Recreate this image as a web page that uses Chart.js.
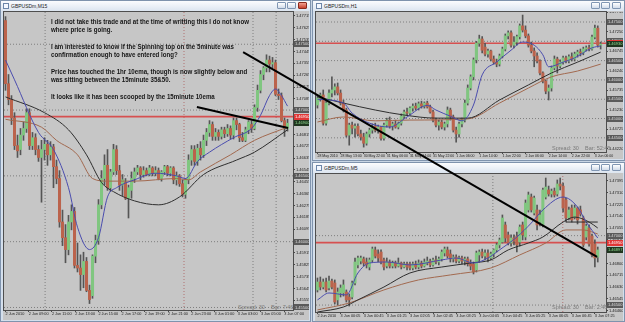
<!DOCTYPE html>
<html>
<head>
<meta charset="utf-8">
<script src="https://cdn.jsdelivr.net/npm/chart.js@4.4.1/dist/chart.umd.min.js"></script>
<style>
html,body{margin:0;padding:0;}
body{width:625px;height:322px;overflow:hidden;position:relative;background:#c9d6e5;font-family:"Liberation Sans",Arial,sans-serif;}
.win{position:absolute;background:#d4dfec;border:1px solid #7f93ad;box-sizing:border-box;}
.tbar{position:absolute;height:10px;background:linear-gradient(#fbfcfe,#dce5f0);}
.ico{position:absolute;width:6px;height:6px;border:1px solid #6d86a8;background:#f4f8ff;box-sizing:border-box;}
.ttl{position:absolute;font-size:5px;line-height:6px;color:#222;white-space:nowrap;}
.b{position:absolute;width:9px;height:7px;border:1px solid #8096b3;border-radius:1px;box-sizing:border-box;background:linear-gradient(#ffffff,#d2dcea);}
.b.x{background:linear-gradient(#f2a190,#c8402c);border-color:#8b2a1c;}
.bg{position:absolute;background:#c6c6c6;}
.area{position:absolute;border:1px solid #4e4e4e;box-sizing:border-box;}
canvas{position:absolute;}
#note{position:absolute;left:51px;top:18px;font-weight:bold;font-size:7px;line-height:8.3px;color:#161616;white-space:pre;transform-origin:0 0;z-index:5;display:inline-block;}
.spread{position:absolute;font-size:5.5px;line-height:6px;color:#7a7a7a;white-space:pre;z-index:3;}
</style>
</head>
<body>
<!-- left window (M15) -->
<div class="win" style="left:0;top:0;width:311px;height:322px;"></div>
<div class="tbar" style="left:1px;top:1px;width:309px;"></div>
<div class="ico" style="left:3px;top:3px;"></div>
<div class="ttl" style="left:11px;top:3px;">GBPUSDm,M15</div>
<div class="b" style="left:277px;top:2px;"></div>
<div class="b" style="left:287px;top:2px;"></div>
<div class="b x" style="left:298px;top:2px;"></div>
<div class="bg" style="left:3px;top:11px;width:306px;height:309px;"></div>
<div class="area" style="left:3px;top:11px;width:291px;height:300px;"></div>

<!-- top right window (H1) -->
<div class="win" style="left:312px;top:0;width:313px;height:161px;"></div>
<div class="tbar" style="left:313px;top:1px;width:311px;"></div>
<div class="ico" style="left:316px;top:3px;"></div>
<div class="ttl" style="left:324px;top:3px;">GBPUSDm,H1</div>
<div class="b" style="left:591px;top:2px;"></div>
<div class="b" style="left:601px;top:2px;"></div>
<div class="b" style="left:612px;top:2px;"></div>
<div class="bg" style="left:315px;top:11px;width:308px;height:148px;"></div>
<div class="area" style="left:315px;top:11px;width:292px;height:142px;"></div>

<!-- bottom right window (M5) -->
<div class="win" style="left:312px;top:162px;width:313px;height:160px;"></div>
<div class="tbar" style="left:313px;top:163px;width:311px;"></div>
<div class="ico" style="left:316px;top:165px;"></div>
<div class="ttl" style="left:324px;top:165px;">GBPUSDm,M5</div>
<div class="b" style="left:591px;top:164px;"></div>
<div class="b" style="left:601px;top:164px;"></div>
<div class="b" style="left:612px;top:164px;"></div>
<div class="bg" style="left:315px;top:173px;width:308px;height:148px;"></div>
<div class="area" style="left:315px;top:173px;width:292px;height:140px;"></div>

<canvas id="cH1" width="307" height="147" style="left:316px;top:12px;z-index:2;"></canvas>
<canvas id="cM5" width="307" height="146" style="left:316px;top:174px;z-index:2;"></canvas>

<div class="spread" style="left:238px;top:304px;">Spread: 30    Bar: 7:46</div>
<div class="spread" style="left:552px;top:145px;">Spread: 30    Bar: 52:45</div>
<div class="spread" style="left:552px;top:304px;">Spread: 30    Bar: 2:46</div>

<canvas id="cM15" width="625" height="322" style="left:0;top:0;z-index:4;"></canvas>

<div id="note">I did not take this trade and at the time of writting this I do not know
where price is going.

I am interested to know if the Spinning top on the 5minute was
confirmation enough to have entered long?

Price has touched the 1hr 10ema, though is now slightly below and
was sitting between the 15minute 35&amp;50.

It looks like it has been scooped by the 15minute 10ema</div>

<script>
// ---------------- shared levels ----------------
const hLevels = [1.4750, 1.4700, 1.4650, 1.4600, 1.4550, 1.4500, 1.4450];
const redLevel = 1.4695;

// ---------------- M15 (left) ----------------
const m15TimeLabels = ["2 Jun 2010","2 Jun 09:00","2 Jun 11:00","2 Jun 13:00","2 Jun 15:00","2 Jun 17:00","2 Jun 19:00","2 Jun 21:00","2 Jun 23:00","3 Jun 01:00","3 Jun 03:00","3 Jun 05:00","3 Jun 07:00"];
const m15TickPos = [0, 7.74, 15.48, 23.22, 30.96, 38.7, 46.44, 54.18, 61.92, 69.66, 77.4, 85.14, 92.88];
const m15PriceTicks = [1.47715,1.47625,1.47535,1.47445,1.47355,1.47265,1.47175,1.47085,1.46995,1.46905,1.46815,1.46725,1.46635,1.46545,1.46455,1.46365,1.46275,1.46185,1.46095,1.46005,1.45915,1.45825,1.45735,1.45645,1.45555];
const m15Open = [1.4768,1.4720,1.4708,1.4694,1.4673,1.4670,1.4681,1.4686,1.4698,1.4673,
1.4679,1.4670,1.4664,1.4670,1.4674,1.4666,1.4672,1.4657,1.4648,1.4615,
1.4603,1.4594,1.4615,1.4623,1.4582,1.4580,1.4575,1.4585,1.4563,1.4559,
1.4589,1.4601,1.4628,1.4648,1.4658,1.4641,1.4653,1.4670,1.4654,1.4643,
1.4645,1.4633,1.4639,1.4648,1.4653,1.4656,1.4651,1.4654,1.4651,1.4656,
1.4652,1.4654,1.4648,1.4653,1.4657,1.4652,1.4656,1.4647,1.4650,1.4644,
1.4636,1.4647,1.4662,1.4670,1.4661,1.4671,1.4666,1.4677,1.4683,1.4689,
1.4680,1.4683,1.4680,1.4685,1.4682,1.4686,1.4681,1.4692,1.4689,1.4679,
1.4677,1.4685,1.4689,1.4686,1.4702,1.4715,1.4727,1.4732,1.4738,1.4735,
1.4736,1.4712,1.4711,1.4692,1.4686];
const m15High = [1.4771,1.4727,1.4711,1.4698,1.4681,1.4686,1.4691,1.4701,1.4701,1.4683,
1.4682,1.4673,1.4677,1.4679,1.4677,1.4676,1.4674,1.4662,1.4654,1.4624,
1.4613,1.4620,1.4628,1.4626,1.4599,1.4590,1.4592,1.4588,1.4567,1.4590,
1.4605,1.4632,1.4654,1.4666,1.4670,1.4655,1.4674,1.4673,1.4658,1.4651,
1.4648,1.4643,1.4653,1.4656,1.4658,1.4657,1.4657,1.4656,1.4658,1.4657,
1.4657,1.4656,1.4654,1.4658,1.4658,1.4657,1.4657,1.4653,1.4651,1.4647,
1.4648,1.4666,1.4673,1.4673,1.4674,1.4676,1.4681,1.4686,1.4692,1.4691,
1.4686,1.4685,1.4687,1.4687,1.4689,1.4688,1.4694,1.4694,1.4690,1.4683,
1.4687,1.4692,1.4692,1.4704,1.4719,1.4730,1.4733,1.4742,1.4741,1.4740,
1.4738,1.4716,1.4713,1.4694,1.4693];
const m15Low = [1.4715,1.4704,1.4689,1.4670,1.4664,1.4666,1.4677,1.4683,1.4670,1.4670,
1.4666,1.4661,1.4630,1.4662,1.4658,1.4662,1.4641,1.4644,1.4611,1.4597,
1.4584,1.4590,1.4609,1.4580,1.4577,1.4563,1.4565,1.4562,1.4553,1.4557,
1.4584,1.4598,1.4625,1.4643,1.4639,1.4638,1.4651,1.4651,1.4639,1.4635,
1.4632,1.4618,1.4633,1.4645,1.4651,1.4647,1.4649,1.4650,1.4650,1.4650,
1.4650,1.4647,1.4646,1.4651,1.4650,1.4650,1.4644,1.4643,1.4642,1.4634,
1.4633,1.4644,1.4658,1.4658,1.4658,1.4662,1.4664,1.4673,1.4680,1.4677,
1.4677,1.4677,1.4678,1.4679,1.4680,1.4678,1.4678,1.4685,1.4676,1.4676,
1.4676,1.4682,1.4683,1.4685,1.4699,1.4713,1.4723,1.4729,1.4729,1.4732,
1.4711,1.4708,1.4691,1.4680,1.4684];
const m15Close = [1.4720,1.4708,1.4694,1.4673,1.4669,1.4681,1.4686,1.4698,1.4673,1.4679,
1.4670,1.4664,1.4670,1.4674,1.4666,1.4672,1.4657,1.4648,1.4615,1.4603,
1.4594,1.4615,1.4623,1.4582,1.4580,1.4575,1.4585,1.4563,1.4556,1.4589,
1.4601,1.4628,1.4648,1.4658,1.4641,1.4653,1.4670,1.4654,1.4643,1.4647,
1.4633,1.4641,1.4648,1.4653,1.4656,1.4651,1.4654,1.4651,1.4656,1.4652,
1.4654,1.4648,1.4653,1.4657,1.4652,1.4656,1.4647,1.4650,1.4644,1.4636,
1.4647,1.4662,1.4670,1.4661,1.4671,1.4666,1.4677,1.4683,1.4689,1.4680,
1.4683,1.4680,1.4685,1.4682,1.4686,1.4681,1.4692,1.4689,1.4679,1.4677,
1.4685,1.4691,1.4686,1.4702,1.4715,1.4727,1.4732,1.4738,1.4735,1.4736,
1.4712,1.4711,1.4692,1.4686,1.4690];
const m15Ema10 = [[0,1.4738],[3,1.4723],[11,1.4683],[16,1.4670],[21,1.4641],[24,1.4611],[28,1.4594],[31,1.4603],[34,1.4634],[37,1.4641],[43,1.4647],[50,1.4652],[57,1.4650],[60,1.4648],[64,1.4661],[68,1.4668],[76,1.4679],[82,1.4686],[85,1.4696],[88,1.4711],[90,1.4716],[92,1.4711],[94,1.4703]];
const m15Ema35 = [[0,1.4710],[13,1.4698],[21,1.4685],[27,1.4666],[32,1.4645],[36,1.4638],[43,1.4631],[51,1.4628],[58,1.4634],[66,1.4651],[77,1.4662],[83,1.4668],[94,1.4685]];
const m15Ema50 = [[0,1.4693],[12,1.4687],[17,1.4677],[24,1.4666],[29,1.4648],[34,1.4646],[43,1.4646],[57,1.4648],[61,1.4647],[65,1.4653],[75,1.4666],[83,1.4677],[94,1.4687]];
const m15VLines = [13.2, 82.5, 90.2];
const m15RedVLines = [59.5];
// hand-drawn trend lines, in M15 chart coordinates (bar index, price)
const trendLineA = [[79.2, 1.47441], [197.2, 1.45884]];
const trendLineB = [[63.8, 1.47023], [94.2, 1.46864]];

// ---------------- H1 (top right) ----------------
const h1TimeLabels = ["28 May 2010","28 May 13:00","30 May 22:00","31 May 06:00","31 May 14:00","31 May 22:00","1 Jun 06:00","1 Jun 14:00","1 Jun 22:00","2 Jun 06:00","2 Jun 14:00","2 Jun 22:00","3 Jun 06:00"];
const h1TickPos = [0,8,16,24,32,40,48,56,64,72,80,88,96];
const h1PriceTicks = [1.47755,1.47250,1.46745,1.46240,1.45735,1.45230,1.44725,1.44220];
const h1Open = [1.4535,1.4553,1.4561,1.4488,1.4540,1.4566,1.4574,1.4582,1.4566,1.4540,
1.4522,1.4457,1.4483,1.4475,1.4480,1.4460,1.4452,1.4436,1.4460,1.4470,
1.4480,1.4470,1.4478,1.4449,1.4483,1.4496,1.4480,1.4486,1.4478,1.4488,
1.4506,1.4517,1.4514,1.4527,1.4532,1.4527,1.4538,1.4532,1.4540,1.4530,
1.4517,1.4496,1.4483,1.4491,1.4478,1.4486,1.4522,1.4504,1.4470,1.4460,
1.4486,1.4496,1.4540,1.4579,1.4608,1.4652,1.4695,1.4706,1.4685,1.4667,
1.4675,1.4654,1.4646,1.4641,1.4662,1.4680,1.4714,1.4722,1.4690,1.4698,
1.4712,1.4740,1.4729,1.4714,1.4690,1.4675,1.4662,1.4649,1.4618,1.4597,
1.4571,1.4579,1.4631,1.4654,1.4636,1.4646,1.4657,1.4649,1.4660,1.4654,
1.4667,1.4672,1.4670,1.4680,1.4683,1.4680,1.4711,1.4734,1.4690];
const h1High = [1.4561,1.4566,1.4574,1.4548,1.4574,1.4608,1.4590,1.4592,1.4574,1.4548,
1.4527,1.4488,1.4491,1.4486,1.4486,1.4470,1.4462,1.4465,1.4475,1.4486,
1.4488,1.4483,1.4480,1.4488,1.4501,1.4504,1.4491,1.4496,1.4491,1.4512,
1.4522,1.4527,1.4530,1.4538,1.4540,1.4543,1.4545,1.4543,1.4545,1.4535,
1.4522,1.4501,1.4496,1.4496,1.4491,1.4530,1.4527,1.4509,1.4478,1.4491,
1.4501,1.4548,1.4587,1.4613,1.4657,1.4700,1.4716,1.4712,1.4695,1.4680,
1.4677,1.4662,1.4654,1.4667,1.4685,1.4719,1.4727,1.4727,1.4712,1.4716,
1.4745,1.4768,1.4740,1.4719,1.4698,1.4683,1.4670,1.4652,1.4621,1.4600,
1.4587,1.4636,1.4662,1.4659,1.4652,1.4662,1.4662,1.4665,1.4670,1.4672,
1.4677,1.4680,1.4685,1.4688,1.4690,1.4716,1.4742,1.4740,1.4698];
const h1Low = [1.4527,1.4545,1.4483,1.4483,1.4535,1.4556,1.4561,1.4561,1.4535,1.4517,
1.4452,1.4431,1.4460,1.4452,1.4455,1.4444,1.4426,1.4431,1.4452,1.4462,
1.4465,1.4462,1.4444,1.4444,1.4478,1.4475,1.4470,1.4475,1.4473,1.4483,
1.4501,1.4509,1.4509,1.4519,1.4522,1.4522,1.4527,1.4527,1.4527,1.4514,
1.4491,1.4478,1.4470,1.4473,1.4470,1.4478,1.4496,1.4465,1.4439,1.4452,
1.4478,1.4491,1.4535,1.4574,1.4600,1.4644,1.4687,1.4670,1.4662,1.4659,
1.4649,1.4641,1.4634,1.4636,1.4657,1.4675,1.4706,1.4685,1.4683,1.4690,
1.4706,1.4724,1.4709,1.4685,1.4670,1.4634,1.4644,1.4613,1.4592,1.4564,
1.4548,1.4571,1.4626,1.4618,1.4631,1.4641,1.4644,1.4644,1.4649,1.4649,
1.4659,1.4662,1.4665,1.4675,1.4675,1.4677,1.4706,1.4685,1.4680];
const h1Close = [1.4553,1.4561,1.4488,1.4540,1.4566,1.4574,1.4582,1.4566,1.4540,1.4522,
1.4457,1.4483,1.4475,1.4480,1.4460,1.4452,1.4436,1.4460,1.4470,1.4480,
1.4470,1.4478,1.4449,1.4483,1.4496,1.4480,1.4486,1.4478,1.4488,1.4506,
1.4517,1.4514,1.4527,1.4532,1.4527,1.4538,1.4532,1.4540,1.4530,1.4517,
1.4496,1.4483,1.4491,1.4478,1.4486,1.4522,1.4504,1.4470,1.4460,1.4486,
1.4496,1.4540,1.4579,1.4608,1.4652,1.4695,1.4706,1.4677,1.4667,1.4675,
1.4654,1.4646,1.4641,1.4662,1.4680,1.4714,1.4722,1.4690,1.4698,1.4712,
1.4740,1.4729,1.4714,1.4690,1.4675,1.4662,1.4649,1.4618,1.4597,1.4571,
1.4579,1.4631,1.4654,1.4636,1.4646,1.4657,1.4649,1.4660,1.4654,1.4667,
1.4672,1.4670,1.4680,1.4683,1.4680,1.4711,1.4734,1.4690,1.4693];
const h1Ema10 = [[0,1.4550],[9,1.4540],[12,1.4514],[18,1.4488],[25,1.4478],[31,1.4504],[38,1.4534],[41,1.4522],[46,1.4506],[50,1.4494],[54,1.4535],[57,1.4613],[62,1.4646],[67,1.4677],[71,1.4698],[75,1.4690],[78,1.4665],[80,1.4634],[85,1.4646],[89,1.4657],[95,1.4683],[98,1.4688]];
const h1Ema35 = [[0,1.4556],[9,1.4540],[20,1.4522],[30,1.4509],[41,1.4501],[52,1.4501],[63,1.4548],[73,1.4587],[81,1.4618],[90,1.4646],[98,1.4672]];
const h1Ema50 = [[0,1.4491],[9,1.4504],[20,1.4494],[32,1.4496],[52,1.4499],[63,1.4540],[73,1.4579],[81,1.4608],[90,1.4623],[98,1.4641]];

// ---------------- M5 (bottom right) ----------------
const m5TimeLabels = ["2 Jun 2010","3 Jun 00:05","3 Jun 00:45","3 Jun 01:25","3 Jun 02:05","3 Jun 02:45","3 Jun 03:25","3 Jun 04:05","3 Jun 04:45","3 Jun 05:25","3 Jun 06:05","3 Jun 06:45","3 Jun 07:25"];
const m5TickPos = [0,8,16,24,32,40,48,56,64,72,80,88,96];
const m5PriceTicks = [1.47395,1.47310,1.47225,1.47140,1.47055,1.46970,1.46885,1.46800,1.46715,1.46630,1.46545,1.46460];
const m5Open = [1.46609,1.46666,1.46630,1.46666,1.46623,1.46673,1.46659,1.46537,1.46587,1.46587,
1.46594,1.46558,1.46558,1.46659,1.46789,1.46817,1.46832,1.46810,1.46774,1.46825,
1.46897,1.46868,1.46882,1.46825,1.46781,1.46810,1.46781,1.46803,1.46781,1.46803,
1.46774,1.46796,1.46796,1.46767,1.46796,1.46774,1.46803,1.46781,1.46803,1.46817,
1.46789,1.46825,1.46810,1.46832,1.46875,1.46897,1.46868,1.46832,1.46846,1.46817,
1.46839,1.46817,1.46832,1.46796,1.46796,1.46753,1.46861,1.46882,1.46853,1.46875,
1.46839,1.46868,1.46897,1.46933,1.46954,1.47077,1.47005,1.46947,1.46983,1.46997,
1.46954,1.47077,1.46990,1.47185,1.47278,1.47163,1.47185,1.47098,1.47077,1.47278,
1.47329,1.47300,1.47321,1.47300,1.47372,1.47357,1.47257,1.47127,1.47199,1.47134,
1.47199,1.47185,1.47127,1.46990,1.47055,1.46997,1.46940,1.46846];
const m5High = [1.46695,1.46702,1.46688,1.46695,1.46709,1.46688,1.46681,1.46623,1.46645,1.46681,
1.46609,1.46580,1.46673,1.46839,1.46853,1.46853,1.46846,1.46839,1.46839,1.46918,
1.46918,1.46897,1.46897,1.46839,1.46839,1.46825,1.46817,1.46817,1.46839,1.46810,
1.46810,1.46810,1.46810,1.46810,1.46817,1.46825,1.46817,1.46832,1.46846,1.46832,
1.46839,1.46853,1.46846,1.46897,1.46918,1.46918,1.46897,1.46861,1.46861,1.46853,
1.46853,1.46846,1.46846,1.46825,1.46810,1.46889,1.46897,1.46904,1.46897,1.46897,
1.46882,1.46904,1.46947,1.46983,1.47149,1.47098,1.47026,1.47005,1.47005,1.47026,
1.47077,1.47098,1.47257,1.47314,1.47300,1.47285,1.47221,1.47185,1.47343,1.47415,
1.47357,1.47336,1.47343,1.47401,1.47415,1.47379,1.47271,1.47206,1.47221,1.47221,
1.47206,1.47213,1.47141,1.47084,1.47077,1.47012,1.46969,1.46918];
const m5Low = [1.46594,1.46609,1.46616,1.46594,1.46609,1.46616,1.46508,1.46501,1.46558,1.46565,
1.46522,1.46493,1.46544,1.46645,1.46767,1.46796,1.46781,1.46767,1.46753,1.46810,
1.46839,1.46810,1.46796,1.46753,1.46767,1.46767,1.46767,1.46767,1.46774,1.46760,
1.46767,1.46753,1.46753,1.46753,1.46760,1.46760,1.46767,1.46774,1.46789,1.46774,
1.46781,1.46796,1.46789,1.46817,1.46853,1.46839,1.46810,1.46810,1.46803,1.46803,
1.46796,1.46789,1.46781,1.46753,1.46724,1.46738,1.46810,1.46839,1.46825,1.46810,
1.46825,1.46846,1.46882,1.46911,1.46947,1.46954,1.46933,1.46925,1.46933,1.46882,
1.46925,1.46969,1.46969,1.47170,1.47170,1.47149,1.47041,1.47070,1.47062,1.47264,
1.47285,1.47278,1.47278,1.47285,1.47329,1.47170,1.47098,1.47113,1.47098,1.47120,
1.47084,1.47141,1.46918,1.46969,1.46925,1.46846,1.46774,1.46810];
const m5Close = [1.46666,1.46630,1.46666,1.46609,1.46673,1.46630,1.46522,1.46594,1.46623,1.46645,
1.46537,1.46537,1.46659,1.46810,1.46839,1.46839,1.46803,1.46789,1.46825,1.46904,
1.46853,1.46839,1.46810,1.46774,1.46810,1.46781,1.46803,1.46781,1.46803,1.46774,
1.46796,1.46774,1.46767,1.46796,1.46774,1.46803,1.46781,1.46810,1.46817,1.46789,
1.46825,1.46810,1.46832,1.46882,1.46904,1.46853,1.46832,1.46846,1.46817,1.46839,
1.46817,1.46832,1.46796,1.46781,1.46738,1.46875,1.46882,1.46853,1.46875,1.46839,
1.46868,1.46897,1.46933,1.46969,1.47127,1.46983,1.46947,1.46983,1.46961,1.46933,
1.47062,1.47005,1.47235,1.47293,1.47185,1.47271,1.47077,1.47149,1.47329,1.47350,
1.47300,1.47321,1.47293,1.47372,1.47357,1.47199,1.47127,1.47185,1.47113,1.47199,
1.47113,1.47156,1.46933,1.47069,1.46940,1.46861,1.46839,1.46897];
const m5Ema10 = [[0,1.46537],[4,1.46587],[10,1.46573],[14,1.46731],[18,1.46803],[24,1.46810],[32,1.46789],[43,1.46825],[48,1.46839],[54,1.46803],[59,1.46839],[63,1.46897],[69,1.46990],[74,1.47091],[78,1.47185],[85,1.47278],[90,1.47206],[93,1.47098],[97,1.46983]];
const m5Ema35 = [[0,1.46450],[9,1.46486],[14,1.46537],[23,1.46630],[32,1.46731],[43,1.46774],[53,1.46803],[60,1.46825],[66,1.46897],[73,1.46947],[78,1.46990],[85,1.47098],[89,1.47134],[94,1.47098],[97,1.47055]];
const m5Ema50 = [[0,1.46465],[11,1.46515],[23,1.46609],[35,1.46681],[46,1.46717],[60,1.46767],[70,1.46861],[79,1.46947],[86,1.47041],[92,1.47041],[97,1.47012]];
const m5H1EmaSegment = [[86,1.47098],[97,1.47098]];
const m5VLines = [60.7];
const m5RedVLines = [84.9];

// ---------------- drawing ----------------
const UP_FILL = '#80c680', DN_FILL = '#bb634c', WICK = '#555555';
const COL_BLUE = '#4a4cae', COL_DARK = '#2e2e2e', COL_BROWN = '#a2694f';

const axisBoxes = {
  id: 'axisBoxes',
  afterDraw(chart, args, opts) {
    const y = chart.scales.y, ctx = chart.ctx, a = chart.chartArea;
    (opts.items || []).forEach(it => {
      const py = y.getPixelForValue(it.value);
      if (py < a.top + 2 || py > a.bottom - 1) return;
      ctx.save();
      ctx.fillStyle = it.bg;
      ctx.fillRect(y.left + 1, Math.round(py) - 3, y.width - 1, 6);
      ctx.fillStyle = it.fg;
      ctx.font = '4px "Liberation Sans"';
      ctx.textBaseline = 'middle';
      ctx.fillText(it.value.toFixed(5), y.left + 2, py);
      ctx.restore();
    });
  }
};

function pts(pairs) { return pairs.map(p => ({x: p[0], y: p[1]})); }
function lineDs(data, color, width, extra) {
  return Object.assign({type: 'line', data, borderColor: color, borderWidth: width, pointRadius: 0, fill: false, tension: 0}, extra || {});
}

function buildChart(canvas, s) {
  const n = s.open.length;
  const wick = [], body = [], fills = [];
  for (let i = 0; i < n; i++) {
    wick.push({x: i, y: [s.low[i], s.high[i]]});
    body.push({x: i, y: [s.open[i], s.close[i]]});
    fills.push(s.close[i] >= s.open[i] ? UP_FILL : DN_FILL);
  }
  const ds = [];
  hLevels.forEach(v => ds.push(lineDs([{x: s.xMin, y: v}, {x: s.xMax, y: v}], '#7e7e7e', 1, {borderDash: [1, 2], order: 20})));
  s.vLines.forEach(v => ds.push(lineDs([{x: v, y: s.yMin}, {x: v, y: s.yMax}], '#7e7e7e', 1, {borderDash: [1, 2], order: 20})));
  s.redVLines.forEach(v => ds.push(lineDs([{x: v, y: s.yMin}, {x: v, y: s.yMax}], '#b07070', 1, {borderDash: [1, 2], order: 20})));
  ds.push(lineDs([{x: s.xMin, y: redLevel}, {x: s.xMax, y: redLevel}], '#d65050', 1.6, {order: 19}));
  ds.push({type: 'bar', data: wick, backgroundColor: WICK, barThickness: 1, grouped: false, order: 10});
  ds.push({type: 'bar', data: body, backgroundColor: fills, barThickness: 2.4, grouped: false, minBarLength: 1, order: 9});
  ds.push(lineDs(pts(s.ema50), COL_BROWN, 1, {cubicInterpolationMode: 'monotone', order: 6}));
  ds.push(lineDs(pts(s.ema35), COL_DARK, 1, {cubicInterpolationMode: 'monotone', order: 5}));
  ds.push(lineDs(pts(s.ema10), COL_BLUE, 1, {cubicInterpolationMode: 'monotone', order: 4}));
  (s.extraLines || []).forEach(t => ds.push(lineDs(pts(t), COL_DARK, 1, {order: 3})));
  (s.trend || []).forEach(t => ds.push(lineDs(pts(t), '#000000', 2, {clip: false, order: 0})));

  const boxes = hLevels.map(v => ({value: v, bg: '#5a5a5a', fg: '#dedede'}));
  boxes.push({value: redLevel, bg: '#e03636', fg: '#ffffff'});
  boxes.push({value: s.close[n - 1], bg: '#1f351f', fg: '#92dc92'});

  return new Chart(canvas, {
    type: 'bar',
    data: {datasets: ds},
    plugins: [axisBoxes],
    options: {
      responsive: false, animation: false, devicePixelRatio: 1, events: [],
      layout: {padding: s.padding},
      plugins: {legend: {display: false}, tooltip: {enabled: false}, axisBoxes: {items: boxes}},
      scales: {
        x: {
          type: 'linear', offset: false, bounds: 'data', min: s.xMin, max: s.xMax, position: 'bottom',
          grid: {display: true, drawOnChartArea: false, drawTicks: true, tickLength: 2, color: '#4a4a4a', offset: false},
          border: {display: false},
          afterBuildTicks: ax => { ax.ticks = s.tickPos.map(v => ({value: v})); },
          afterFit: ax => { ax.height = s.xH; ax.paddingLeft = 0; ax.paddingRight = 0; },
          ticks: {autoSkip: false, maxRotation: 0, minRotation: 0, align: 'start', padding: 0, color: '#202020',
                  font: {size: s.xFont, family: 'Liberation Sans'}, callback: (v, i) => s.timeLabels[i]}
        },
        y: {
          type: 'linear', bounds: 'data', position: 'right', min: s.yMin, max: s.yMax,
          grid: {display: true, drawOnChartArea: false, drawTicks: true, tickLength: 2, color: '#4a4a4a'},
          border: {display: false},
          afterBuildTicks: ax => { ax.ticks = s.priceTicks.map(v => ({value: v})); },
          afterFit: ax => { ax.width = s.yW; ax.paddingTop = 0; ax.paddingBottom = 0; },
          ticks: {autoSkip: false, padding: 1, color: '#202020', font: {size: 4, family: 'Liberation Sans'},
                  callback: v => v.toFixed(5)}
        }
      }
    }
  });
}

buildChart(document.getElementById('cH1'), {
  open: h1Open, high: h1High, low: h1Low, close: h1Close,
  ema10: h1Ema10, ema35: h1Ema35, ema50: h1Ema50,
  vLines: [], redVLines: [],
  xMin: -0.5, xMax: 99.85, yMin: 1.44133, yMax: 1.47759,
  tickPos: h1TickPos, timeLabels: h1TimeLabels, priceTicks: h1PriceTicks,
  padding: {left: 0, top: 0, right: 0, bottom: 0}, xH: 7, yW: 17, xFont: 3.5
});

buildChart(document.getElementById('cM5'), {
  open: m5Open, high: m5High, low: m5Low, close: m5Close,
  ema10: m5Ema10, ema35: m5Ema35, ema50: m5Ema50, extraLines: [m5H1EmaSegment],
  vLines: m5VLines, redVLines: m5RedVLines,
  xMin: -0.5, xMax: 99.85, yMin: 1.46450, yMax: 1.47444,
  tickPos: m5TickPos, timeLabels: m5TimeLabels, priceTicks: m5PriceTicks,
  padding: {left: 0, top: 0, right: 0, bottom: 0}, xH: 8, yW: 17, xFont: 3.8
});

buildChart(document.getElementById('cM15'), {
  open: m15Open, high: m15High, low: m15Low, close: m15Close,
  ema10: m15Ema10, ema35: m15Ema35, ema50: m15Ema50,
  vLines: m15VLines, redVLines: m15RedVLines, trend: [trendLineA, trendLineB],
  xMin: -0.5, xMax: 95.83, yMin: 1.45481, yMax: 1.47745,
  tickPos: m15TickPos, timeLabels: m15TimeLabels, priceTicks: m15PriceTicks,
  padding: {left: 4, top: 12, right: 316, bottom: 4}, xH: 8, yW: 16, xFont: 3.8
});

// fit the note text to the width it has in the picture
const note = document.getElementById('note');
const w = note.getBoundingClientRect().width;
if (w > 0) note.style.transform = 'scaleX(' + (198 / w).toFixed(3) + ')';
</script>
</body>
</html>
